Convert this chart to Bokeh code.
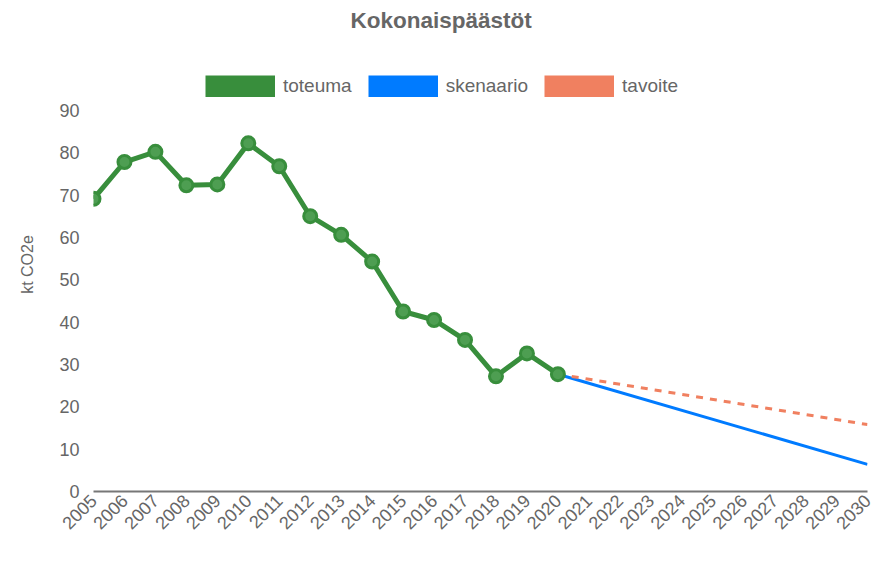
import math
from bokeh.plotting import figure
from bokeh.models import Legend, LegendItem, FixedTicker, Range1d
from bokeh.embed import file_html
from bokeh.resources import INLINE

# ---- data ----
years_hist = [2005, 2006, 2007, 2008, 2009, 2010, 2011, 2012, 2013, 2014,
              2015, 2016, 2017, 2018, 2019, 2020]
toteuma = [69.1, 77.8, 80.2, 72.3, 72.5, 82.2, 76.8, 65.0, 60.6, 54.3,
           42.5, 40.5, 35.8, 27.2, 32.6, 27.7]
years_future = [2020, 2030]
skenaario = [27.7, 6.4]
tavoite = [27.7, 15.8]
x_ticks = list(range(2005, 2031))
y_ticks = [0, 10, 20, 30, 40, 50, 60, 70, 80, 90]

GREEN = "#388e3c"
BLUE = "#007bff"
ORANGE = "#f08060"
GREY = "#666666"
FONT = "Liberation Sans"

W, H = 876, 586
TOP, BOTTOM, LEFT, RIGHT = 36, 95, 93, 9
frame_h = H - TOP - BOTTOM
headroom = 73  # px between frame top and the 90 tick
y_end = 90 * frame_h / (frame_h - headroom)

p = figure(width=W, height=H, output_backend="svg", toolbar_location=None,
           x_range=Range1d(2005, 2030), y_range=Range1d(0, y_end),
           min_border_left=LEFT, min_border_right=RIGHT, min_border_bottom=BOTTOM,
           min_border_top=TOP)
p.outline_line_color = None
p.grid.visible = False
p.background_fill_color = "white"

p.title.text = "Kokonaispäästöt"
p.title.align = "left"
p.title.offset = 257
p.title.text_font = FONT
p.title.text_font_size = "22.5px"
p.title.text_font_style = "bold"
p.title.text_color = GREY

# lines
r_sk = p.line(years_future, skenaario, line_color=BLUE, line_width=3)
r_ta = p.line(years_future, tavoite, line_color=ORANGE, line_width=3, line_dash="7 7")
r_to = p.line(years_hist, toteuma, line_color=GREEN, line_width=5, line_join="round")
p.scatter(years_hist, toteuma, size=13, marker="circle", line_color=GREEN,
          line_width=3, fill_color="#4e9e52")

# legend swatches: single-vertex lines (invisible in the plot) drawn thick in the legend
sw_to = p.line([years_hist[-1]], [toteuma[-1]], line_color=GREEN, line_width=22, line_cap="butt")
sw_sk = p.line([years_future[0]], [skenaario[0]], line_color=BLUE, line_width=22, line_cap="butt")
sw_ta = p.line([years_future[0]], [tavoite[0]], line_color=ORANGE, line_width=22, line_cap="butt")

legend = Legend(items=[LegendItem(label="toteuma", renderers=[sw_to]),
                       LegendItem(label="skenaario", renderers=[sw_sk]),
                       LegendItem(label="tavoite", renderers=[sw_ta])],
                orientation="horizontal", location=(112, 394),
                glyph_width=70, glyph_height=22, label_standoff=8, spacing=16,
                padding=0, margin=0, border_line_color=None,
                background_fill_alpha=0,
                label_text_font=FONT, label_text_font_size="19px",
                label_text_color=GREY)
p.add_layout(legend)

# axes
xa = p.xaxis[0]
xa.ticker = FixedTicker(ticks=x_ticks)
xa.major_label_orientation = math.pi / 4
xa.major_label_text_font = FONT
xa.major_label_text_font_size = "18px"
xa.major_label_text_color = GREY
xa.major_tick_out = 0
xa.major_tick_in = 0
xa.minor_tick_out = 0
xa.minor_tick_in = 0
xa.axis_line_color = "#777777"
xa.axis_line_width = 2
xa.major_label_standoff = 6

ya = p.yaxis[0]
ya.ticker = FixedTicker(ticks=y_ticks)
ya.major_label_text_font = FONT
ya.major_label_text_font_size = "18px"
ya.major_label_text_color = GREY
ya.major_tick_out = 0
ya.major_tick_in = 0
ya.minor_tick_out = 0
ya.minor_tick_in = 0
ya.axis_line_color = None
ya.major_label_standoff = 14
ya.axis_label = "kt CO2e"
ya.axis_label_text_font = FONT
ya.axis_label_text_font_size = "16px"
ya.axis_label_text_font_style = "normal"
ya.axis_label_text_color = GREY
ya.axis_label_standoff = 20

open("out.html", "w").write(file_html(p, INLINE))
